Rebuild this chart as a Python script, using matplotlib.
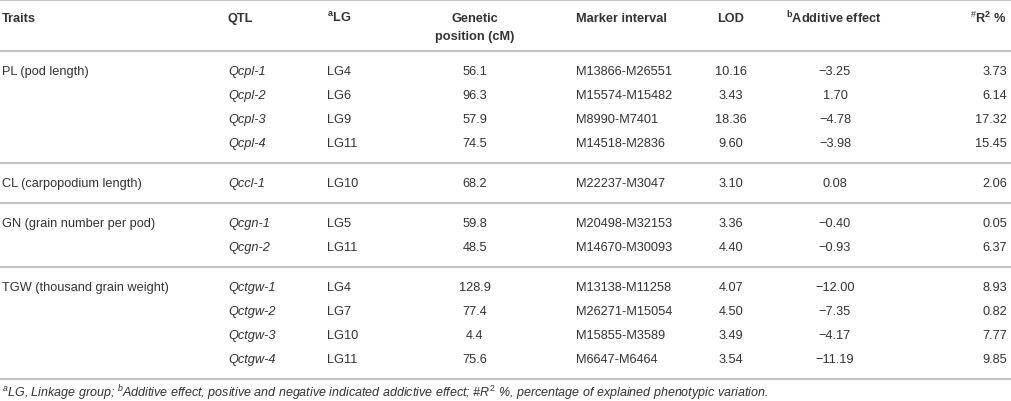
import matplotlib.pyplot as plt

plt.rcParams['font.family'] = ['Liberation Sans', 'DejaVu Sans']
plt.rcParams['mathtext.fontset'] = 'custom'
plt.rcParams['mathtext.rm'] = 'Liberation Sans'
plt.rcParams['mathtext.it'] = 'Liberation Sans:italic'
plt.rcParams['mathtext.bf'] = 'Liberation Sans:bold'

# table data
traits = ["PL (pod length)", "CL (carpopodium length)",
          "GN (grain number per pod)", "TGW (thousand grain weight)"]
group_sizes = [4, 1, 2, 4]
qtl = ["Qcpl-1", "Qcpl-2", "Qcpl-3", "Qcpl-4", "Qccl-1", "Qcgn-1", "Qcgn-2",
       "Qctgw-1", "Qctgw-2", "Qctgw-3", "Qctgw-4"]
lg = ["LG4", "LG6", "LG9", "LG11", "LG10", "LG5", "LG11",
      "LG4", "LG7", "LG10", "LG11"]
position = ["56.1", "96.3", "57.9", "74.5", "68.2", "59.8", "48.5",
            "128.9", "77.4", "4.4", "75.6"]
marker = ["M13866-M26551", "M15574-M15482", "M8990-M7401", "M14518-M2836",
          "M22237-M3047", "M20498-M32153", "M14670-M30093",
          "M13138-M11258", "M26271-M15054", "M15855-M3589", "M6647-M6464"]
lod = ["10.16", "3.43", "18.36", "9.60", "3.10", "3.36", "4.40",
       "4.07", "4.50", "3.49", "3.54"]
additive = ["\u22123.25", "1.70", "\u22124.78", "\u22123.98", "0.08", "\u22120.40", "\u22120.93",
            "\u221212.00", "\u22127.35", "\u22124.17", "\u221211.19"]
r2 = ["3.73", "6.14", "17.32", "15.45", "2.06", "0.05", "6.37",
      "8.93", "0.82", "7.77", "9.85"]

footnote = (r"$^{a}$LG, Linkage group; $^{b}$Additive effect, positive and negative "
            r"indicated addictive effect; #$R^{2}$ %, percentage of explained phenotypic variation.")

fig = plt.figure(figsize=(10.12, 4.02), dpi=100)
ax = fig.add_axes([0, 0, 1, 1])
ax.set_xlim(0, 1012)
ax.set_ylim(402, 0)
ax.axis('off')

txt = '#333333'
line_c = '#c4c4c4'
fs = 9.2

# header
hy = 19
ax.text(2, hy, "Traits", fontsize=fs, fontweight='bold', color=txt, va='center')
ax.text(228, hy, "QTL", fontsize=fs, fontweight='bold', color=txt, va='center')
ax.text(327, hy - 1, r"$^{\mathbf{a}}$LG", fontsize=fs, fontweight='bold', color=txt, va='center')
ax.text(475, hy, "Genetic", fontsize=fs, fontweight='bold', color=txt, va='center', ha='center')
ax.text(475, hy + 18, "position (cM)", fontsize=fs, fontweight='bold', color=txt, va='center', ha='center')
ax.text(576, hy, "Marker interval", fontsize=fs, fontweight='bold', color=txt, va='center')
ax.text(731, hy, "LOD", fontsize=fs, fontweight='bold', color=txt, va='center', ha='center')
ax.text(834, hy - 1, r"$^{\mathbf{b}}$Additive effect", fontsize=fs, fontweight='bold', color=txt,
        va='center', ha='center')
ax.text(1007, hy - 1, r"$^{\#}$R$^{\mathbf{2}}$ %", fontsize=fs, fontweight='bold', color=txt,
        va='center', ha='right')

ax.plot([0, 1012], [1, 1], color=line_c, lw=1.5)
ax.plot([0, 1012], [52, 52], color=line_c, lw=1.5)

pitch = 24
y = 52
i = 0
for trait, n in zip(traits, group_sizes):
    ry = y + 20
    ax.text(2, ry, trait, fontsize=fs, color=txt, va='center')
    for k in range(n):
        ax.text(228, ry, qtl[i], fontsize=fs, color=txt, va='center', style='italic')
        ax.text(327, ry, lg[i], fontsize=fs, color=txt, va='center')
        ax.text(475, ry, position[i], fontsize=fs, color=txt, va='center', ha='center')
        ax.text(576, ry, marker[i], fontsize=fs, color=txt, va='center')
        ax.text(731, ry, lod[i], fontsize=fs, color=txt, va='center', ha='center')
        ax.text(835, ry, additive[i], fontsize=fs, color=txt, va='center', ha='center')
        ax.text(1007, ry, r2[i], fontsize=fs, color=txt, va='center', ha='right')
        i += 1
        if k < n - 1:
            ry += pitch
    y = ry + 20
    ax.plot([0, 1012], [y, y], color=line_c, lw=1.5)

ax.text(2, 393, footnote, fontsize=9, color=txt, va='center', style='italic')

fig.savefig('out.png', dpi=100)
